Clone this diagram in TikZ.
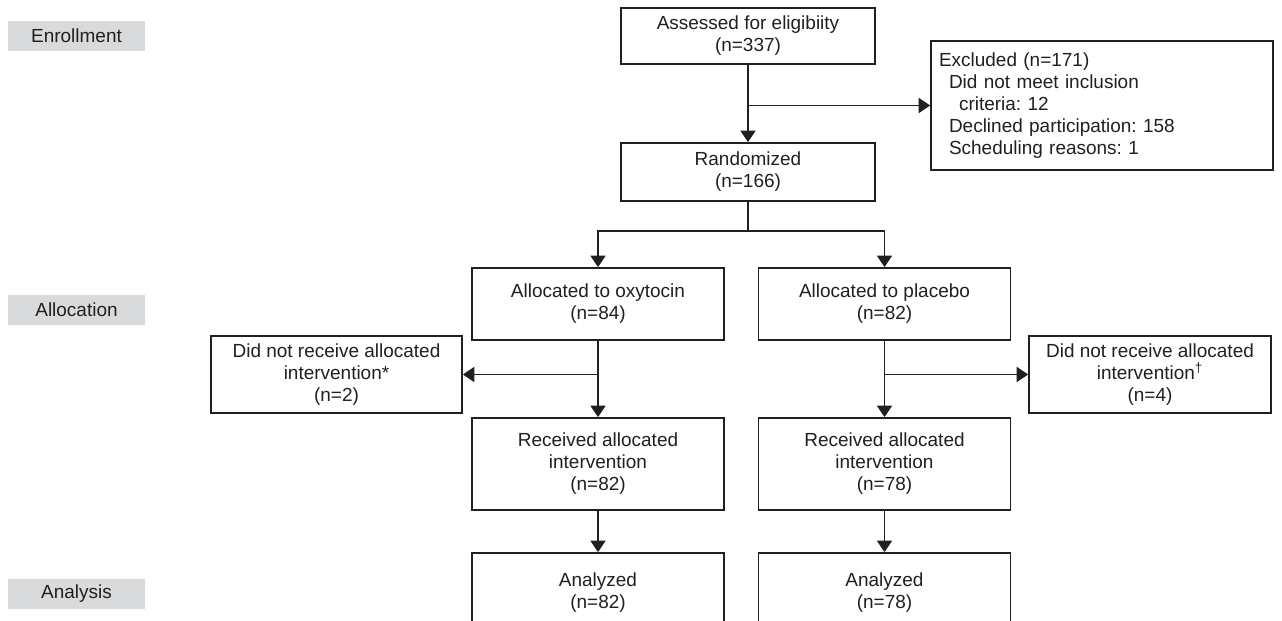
\documentclass[tikz,border=0pt]{standalone}
\usepackage{fontspec}
\setmainfont{Liberation Sans}
\usetikzlibrary{
  arrows.meta,
  positioning,
  backgrounds
}
\usepackage{xcolor}
\definecolor{mylinecolor}{HTML}{231F20}
\definecolor{mystagecolor}{HTML}{D9DADC}
\frenchspacing

\begin{document}
\begin{tikzpicture}[
  x=0.02cm, y=-0.02cm,
  my_box/.style={
    draw=mylinecolor,
    line width=1pt,
    rectangle,
    minimum width=5.04cm,
    inner sep=2pt,
    align=center,
    text=mylinecolor,
    font=\fontsize{10.8}{12.5}\selectfont,
  },
  my_stage/.style={
    fill=mystagecolor,
    rectangle,
    minimum width=2.74cm,
    minimum height=0.6cm,
    inner sep=0pt,
    text=mylinecolor,
    font=\fontsize{10.8}{12.5}\selectfont,
  },
  my_line/.style={
    draw=mylinecolor,
    line width=1pt,
  },
  my_arrow/.style={
    my_line,
    -{Triangle[length=6.5pt,width=8.5pt]},
  }
  ]

  \path[use as bounding box] (0,0) rectangle (1282,621);
  \clip (0,0) rectangle (1282,621);

  \begin{scope}[on background layer]
    \fill[white] (current bounding box.south west) rectangle (current bounding box.north east);
  \end{scope}

  % stages
  \node[my_stage] (enrollment) at (76.5,36) {Enrollment};
  \node[my_stage] (allocation) at (76.5,310) {Allocation};
  \node[my_stage] (analysis) at (76.5,594) {Analysis};

  % enrollment
  \node[my_box, minimum width=5.08cm, minimum height=1.12cm] (assessed) at (748,36) {Assessed for eligibiity\\(n=337)};
  \node[my_box, minimum height=2.58cm, align=left, inner xsep=0.16cm, text width=6.52cm] (excluded) at (1102,105.5) {Excluded (n=171)\\
    \hspace*{0.2cm}Did not meet inclusion\\
    \hspace*{0.4cm}criteria: 12\\
    \hspace*{0.2cm}Declined participation: 158\\
    \hspace*{0.2cm}Scheduling reasons: 1};
  \node[my_box, minimum width=5.08cm, minimum height=1.16cm] (randomized) at (748,172) {Randomized\\(n=166)};

  % allocation
  \node[my_box, minimum height=1.44cm] (alloc_oxy) at (598,304) {Allocated to oxytocin\\(n=84)};
  \node[my_box, minimum height=1.44cm] (alloc_pla) at (884.5,304) {Allocated to placebo\\(n=82)};
  \node[my_box, minimum width=5.02cm, minimum height=1.54cm] (noreceive_oxy) at (336.5,374.5) {Did not receive allocated\\intervention*\\(n=2)};
  \node[my_box, minimum width=4.84cm, minimum height=1.54cm] (noreceive_pla) at (1150,374.5) {Did not receive allocated\\intervention\textsuperscript{†}\\(n=4)};
  \node[my_box, minimum height=1.84cm] (recv_oxy) at (598,464) {Received allocated\\intervention\\(n=82)};
  \node[my_box, minimum height=1.84cm] (recv_pla) at (884.5,464) {Received allocated\\intervention\\(n=78)};

  % analysis
  \node[my_box, minimum height=1.6cm] (analyzed_oxy) at (598,593) {Analyzed\\(n=82)};
  \node[my_box, minimum height=1.6cm] (analyzed_pla) at (884.5,593) {Analyzed\\(n=78)};

  % connectors
  \draw[my_arrow] (assessed) -- (randomized);
  \draw[my_arrow] (assessed.south |- excluded.west) -- (excluded.west);
  \draw[my_line] (randomized.south) -- ++(0,29) coordinate (split);
  \draw[my_arrow] (split) -| (alloc_oxy.north);
  \draw[my_arrow] (split) -| (alloc_pla.north);
  \draw[my_arrow] (alloc_oxy) -- (recv_oxy);
  \draw[my_arrow] (alloc_pla) -- (recv_pla);
  \draw[my_arrow] (alloc_oxy.south |- noreceive_oxy.east) -- (noreceive_oxy.east);
  \draw[my_arrow] (alloc_pla.south |- noreceive_pla.west) -- (noreceive_pla.west);
  \draw[my_arrow] (recv_oxy) -- (analyzed_oxy);
  \draw[my_arrow] (recv_pla) -- (analyzed_pla);

\end{tikzpicture}
\end{document}
